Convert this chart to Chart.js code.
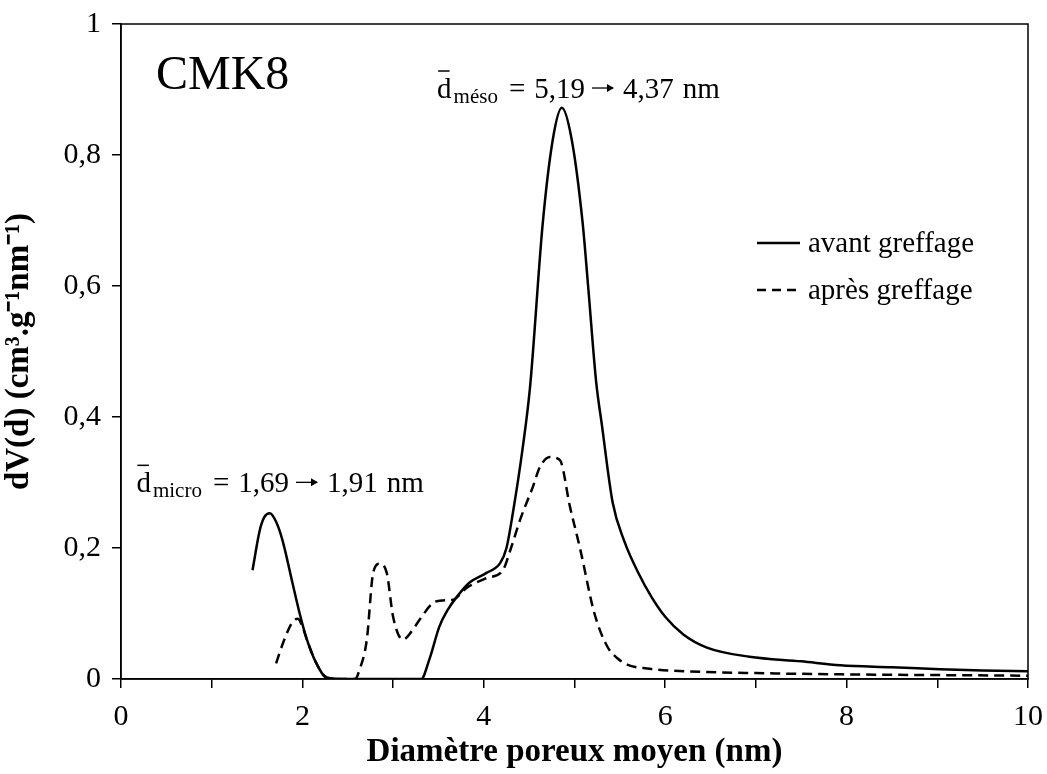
<!DOCTYPE html>
<html>
<head>
<meta charset="utf-8">
<script src="https://cdn.jsdelivr.net/npm/chart.js@4"></script>
<style>
  html, body { margin: 0; padding: 0; background: #fff; }
  #wrap { width: 1047px; height: 774px; }
</style>
</head>
<body>
<div id="wrap"><canvas id="psd-chart" width="1047" height="774"></canvas></div>
<script>
// pore size distribution, CMK8 before / after grafting
const avantX = [1.45, 1.53, 1.58, 1.64, 1.71, 1.78, 1.89, 1.97, 2.05, 2.15, 2.27, 2.5, 3.0, 3.31, 3.40, 3.51, 3.60, 3.70, 3.84, 4.03, 4.18, 4.25, 4.32, 4.43, 4.51, 4.65, 4.76, 4.86, 4.97, 5.09, 5.15, 5.24, 5.30, 5.42, 5.55, 5.70, 5.85, 6.00, 6.20, 6.46, 6.93, 7.50, 7.93, 8.50, 9.03, 9.50, 10];
const avantY = [0.166, 0.227, 0.247, 0.253, 0.240, 0.212, 0.147, 0.100, 0.060, 0.025, 0.002, 0, 0, 0, 0.030, 0.080, 0.105, 0.125, 0.147, 0.162, 0.177, 0.200, 0.253, 0.354, 0.446, 0.696, 0.823, 0.872, 0.823, 0.696, 0.600, 0.452, 0.390, 0.270, 0.210, 0.163, 0.125, 0.095, 0.068, 0.048, 0.034, 0.027, 0.021, 0.018, 0.015, 0.013, 0.012];

const apresX = [1.71, 1.80, 1.89, 1.95, 2.00, 2.05, 2.15, 2.27, 2.40, 2.58, 2.63, 2.71, 2.78, 2.85, 2.93, 3.00, 3.11, 3.20, 3.29, 3.44, 3.55, 3.66, 3.81, 4.03, 4.21, 4.30, 4.40, 4.54, 4.62, 4.73, 4.84, 4.95, 5.06, 5.22, 5.36, 5.47, 5.58, 5.80, 6.38, 7.0, 8.0, 9.0, 10];
const apresY = [0.024, 0.060, 0.087, 0.092, 0.080, 0.060, 0.025, 0.002, 0, 0, 0.014, 0.060, 0.162, 0.176, 0.162, 0.095, 0.060, 0.072, 0.090, 0.116, 0.120, 0.121, 0.139, 0.154, 0.166, 0.200, 0.243, 0.293, 0.324, 0.339, 0.334, 0.263, 0.200, 0.100, 0.050, 0.032, 0.022, 0.016, 0.011, 0.009, 0.007, 0.006, 0.005];

const seriesLabels = ["avant greffage", "après greffage"];
const xTitle = "Diamètre poreux moyen (nm)";
const yTitle = "dV(d) (cm³.g⁻¹nm⁻¹)";
const sampleName = "CMK8";
const annotMeso = { sub: "méso", from: "5,19", to: "4,37", x: 3.485, y: 0.887 };
const annotMicro = { sub: "micro", from: "1,69", to: "1,91", x: 0.17, y: 0.285 };

const SERIF = "'Liberation Serif', 'Times New Roman', serif";
Chart.defaults.font.family = SERIF;
Chart.defaults.color = '#000';

const toPoints = (xs, ys) => xs.map((x, i) => ({ x: x, y: ys[i] }));

// d with a bar, subscript, then "= a → b nm"
function drawDbar(ctx, x, y, a) {
    ctx.font = "29px " + SERIF;
    ctx.fillText("d", x, y);
    const w = ctx.measureText("d").width;
    ctx.lineWidth = 1.5;
    ctx.beginPath();
    ctx.moveTo(x + 1, y - 27);
    ctx.lineTo(x + w - 2, y - 27);
    ctx.stroke();
    let cx = x + w + 2;
    ctx.font = "21px " + SERIF;
    ctx.fillText(a.sub, cx, y + 5);
    cx += ctx.measureText(a.sub).width + 11;
    ctx.font = "29px " + SERIF;
    ctx.fillText("=", cx, y);
    cx += ctx.measureText("=").width + 9;
    ctx.fillText(a.from, cx, y);
    cx += ctx.measureText(a.from).width + 7;
    // arrow
    const ay = y - 10;
    ctx.lineWidth = 1.3;
    ctx.beginPath();
    ctx.moveTo(cx, ay);
    ctx.lineTo(cx + 21, ay);
    ctx.stroke();
    ctx.beginPath();
    ctx.moveTo(cx + 22, ay);
    ctx.lineTo(cx + 15, ay - 4);
    ctx.lineTo(cx + 15, ay + 4);
    ctx.closePath();
    ctx.fill();
    cx += 31;
    ctx.fillText(a.to, cx, y);
    cx += ctx.measureText(a.to).width + 9;
    ctx.fillText("nm", cx, y);
}

const extras = {
    id: 'extras',
    afterDraw(chart) {
        const ctx = chart.ctx;
        const area = chart.chartArea;
        const xs = chart.scales.x, ys = chart.scales.y;
        ctx.save();
        ctx.strokeStyle = '#000';
        ctx.fillStyle = '#000';
        ctx.lineWidth = 1.5;
        ctx.strokeRect(area.left, area.top, area.right - area.left, area.bottom - area.top);

        ctx.textBaseline = 'alphabetic';
        ctx.textAlign = 'left';
        ctx.font = "48px " + SERIF;
        ctx.fillText(sampleName, area.left + 35, 89);

        drawDbar(ctx, xs.getPixelForValue(annotMeso.x), ys.getPixelForValue(annotMeso.y), annotMeso);
        drawDbar(ctx, xs.getPixelForValue(annotMicro.x), ys.getPixelForValue(annotMicro.y), annotMicro);

        // legend
        const lx = 757, lw = 43;
        const rows = [{ y: 243, dash: [] }, { y: 290, dash: [9, 6] }];
        ctx.lineWidth = 2.5;
        rows.forEach((r, i) => {
            ctx.setLineDash(r.dash);
            ctx.beginPath();
            ctx.moveTo(lx, r.y);
            ctx.lineTo(lx + lw, r.y);
            ctx.stroke();
            ctx.setLineDash([]);
            ctx.font = "29px " + SERIF;
            ctx.fillText(seriesLabels[i], lx + lw + 8, r.y + 9);
        });
        ctx.restore();
    }
};

const ctx = document.getElementById('psd-chart');
new Chart(ctx, {
    type: 'line',
    data: {
        datasets: [
            {
                label: seriesLabels[0],
                data: toPoints(avantX, avantY),
                borderColor: '#000',
                borderWidth: 2.5,
                pointRadius: 0,
                cubicInterpolationMode: 'monotone',
                fill: false,
            },
            {
                label: seriesLabels[1],
                data: toPoints(apresX, apresY),
                borderColor: '#000',
                borderWidth: 2.5,
                borderDash: [10, 6],
                pointRadius: 0,
                cubicInterpolationMode: 'monotone',
                fill: false,
            },
        ],
    },
    options: {
        responsive: false,
        animation: false,
        layout: {
            padding: { top: 24, right: 19, left: 0, bottom: 0 },
        },
        scales: {
            x: {
                type: 'linear',
                min: 0,
                max: 10,
                afterFit: scale => {
                    scale.height = 95;
                    scale.paddingLeft = 0;   // don't let the edge labels push the plot in
                    scale.paddingRight = 0;
                },
                ticks: {
                    stepSize: 1,
                    autoSkip: false,
                    maxRotation: 0,
                    padding: 11,
                    font: { size: 30 },
                    callback: v => (v % 2 === 0 ? String(v) : ''),
                },
                grid: {
                    drawOnChartArea: false,
                    tickLength: 9,
                    color: '#000',
                    lineWidth: 1.5,
                },
                border: { color: '#000', width: 1.5 },
                title: {
                    display: true,
                    text: xTitle,
                    font: { size: 33, weight: 'bold' },
                    padding: { top: 0, bottom: 2 },
                },
            },
            y: {
                min: 0,
                max: 1,
                afterFit: scale => {
                    scale.width = 121;
                    scale.paddingTop = 0;
                    scale.paddingBottom = 0;
                },
                ticks: {
                    stepSize: 0.2,
                    padding: 11,
                    font: { size: 30 },
                    callback: v => String(Math.round(v * 10) / 10).replace('.', ','),
                },
                grid: {
                    drawOnChartArea: false,
                    tickLength: 9,
                    color: '#000',
                    lineWidth: 1.5,
                },
                border: { color: '#000', width: 1.5 },
                title: {
                    display: true,
                    text: yTitle,
                    font: { size: 33, weight: 'bold' },
                    padding: { top: 0, bottom: 2 },
                },
            },
        },
        plugins: {
            legend: { display: false },
            tooltip: { enabled: false },
        },
    },
    plugins: [extras],
});
</script>
</body>
</html>
